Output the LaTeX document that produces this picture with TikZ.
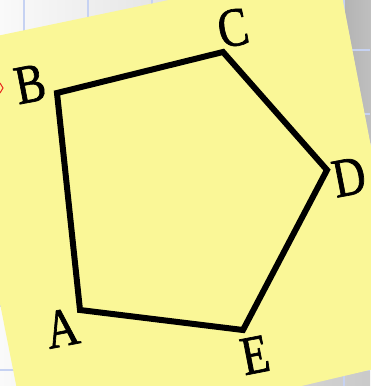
\documentclass[tikz,border=0pt]{standalone}
\usepackage{fontspec}
\newfontfamily\lblfont[FakeStretch=0.82, FakeBold=1.2]{Liberation Serif}
\definecolor{cPaper}{HTML}{FAF797}
\definecolor{cGrid}{HTML}{C6D2F2}
\definecolor{cMark}{HTML}{E8231C}

\begin{document}
\begin{tikzpicture}[x=1pt, y=1pt,
  lbl/.style={inner sep=0pt, font=\lblfont\fontsize{55}{55}\selectfont, rotate=11},
  side/.style={line width=6pt, line join=miter},
  gridline/.style={draw=cGrid, line width=2pt},
]
\useasboundingbox (0,0) rectangle (370,-386);
% desk behind the sheet
\shade[left color=gray!4, right color=gray!42] (0,0) rectangle (370,-386);
\shade[left color=gray!62, right color=gray!30] (336,35) -- (380,35) -- (430,-360) -- (412,-360) -- cycle;
\foreach \gx in {24,88,...,344} \draw[gridline] (\gx,0) -- (\gx,-386);
\foreach \gy in {50,114,...,370} \draw[gridline] (0,-\gy) -- (370,-\gy);
% the sheet
\fill[cPaper] (-51,-46) -- (336,35) -- (412,-360) -- (29,-450) -- cycle;
\draw[cMark, line width=1pt] (0,-83) -- (3,-88) -- (0,-93);

% pentagon
\coordinate (A) at (80,-310);
\coordinate (B) at (57,-93);
\coordinate (C) at (223,-52);
\coordinate (D) at (327,-170);
\coordinate (E) at (243,-330);
\draw[side] (A) -- (B) -- (C) -- (D) -- (E) -- cycle;

\node[lbl] (lA) at (62,-328) {A};
\node[lbl] (lB) at (30,-84) {B};
\node[lbl] (lC) at (233,-28) {C};
\node[lbl] (lD) at (349,-177) {D};
\node[lbl] (lE) at (255,-355) {E};
\end{tikzpicture}
\end{document}
